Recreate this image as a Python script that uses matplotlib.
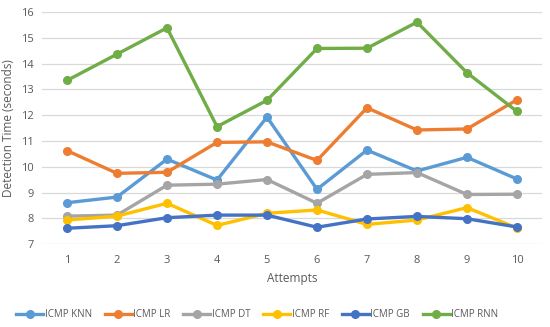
import matplotlib
matplotlib.use("Agg")
import matplotlib.pyplot as plt

attempts = [1, 2, 3, 4, 5, 6, 7, 8, 9, 10]
knn = [8.61, 8.83, 10.30, 9.49, 11.93, 9.13, 10.65, 9.84, 10.37, 9.53]
lr = [10.63, 9.75, 9.79, 10.95, 10.97, 10.25, 12.29, 11.43, 11.47, 12.60]
dt = [8.09, 8.13, 9.29, 9.33, 9.51, 8.59, 9.71, 9.78, 8.93, 8.94]
rf = [7.94, 8.09, 8.59, 7.73, 8.20, 8.33, 7.77, 7.94, 8.42, 7.63]
gb = [7.62, 7.72, 8.03, 8.13, 8.13, 7.66, 7.98, 8.08, 7.99, 7.67]
rnn = [13.35, 14.37, 15.39, 11.56, 12.58, 14.59, 14.60, 15.61, 13.65, 12.15]

series = [
    ("ICMP KNN", knn, "#5B9BD5"),
    ("ICMP LR", lr, "#ED7D31"),
    ("ICMP DT", dt, "#A5A5A5"),
    ("ICMP RF", rf, "#FFC000"),
    ("ICMP GB", gb, "#4472C4"),
    ("ICMP RNN", rnn, "#70AD47"),
]

plt.rcParams['font.family'] = ['Open Sans', 'DejaVu Sans']
fig = plt.figure(figsize=(5.5, 3.27), dpi=100)
ax = fig.add_axes([0.0764, 0.253, 0.909, 0.71])

for name, vals, col in series:
    ax.plot(attempts, vals, color=col, lw=2.4, marker='o', ms=5.5, label=name,
            solid_joinstyle='round')

ax.set_xlim(0.5, 10.5)
ax.set_ylim(7, 16)
ax.set_yticks(range(7, 17))
ax.set_xticks(attempts)
ax.grid(axis='y', color='#D9D9D9', lw=0.9)
ax.set_axisbelow(True)
for s in ax.spines.values():
    s.set_visible(False)
ax.tick_params(length=0, colors='#595959', labelsize=8)
ax.tick_params(axis='x', pad=8)
ax.tick_params(axis='y', pad=6)
ax.set_xlabel("Attempts", color='#595959', fontsize=8.5, labelpad=4)
ax.set_ylabel("Detection Time (seconds)", color='#595959', fontsize=8.5, labelpad=4)

leg = fig.legend(loc='center', bbox_to_anchor=(0.468, 0.038), ncol=6, frameon=False,
                 fontsize=7, handlelength=2.8, columnspacing=1.3, handletextpad=0.15,
                 labelcolor='#595959')
fig.savefig("out.png", dpi=100)
